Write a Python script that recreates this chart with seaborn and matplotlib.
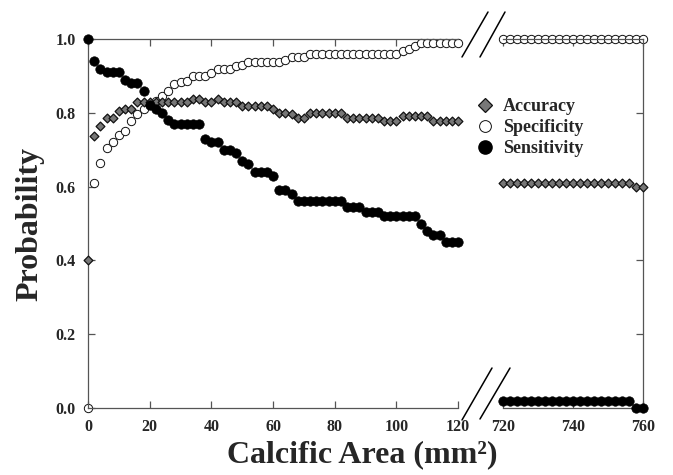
import matplotlib
matplotlib.use("Agg")
import matplotlib.pyplot as plt
from matplotlib.lines import Line2D
import seaborn as sns
import pandas as pd

# ---------------- data ----------------
x_left = [0, 2, 4, 6, 8, 10, 12, 14, 16, 18,
          20, 22, 24, 26, 28, 30, 32, 34, 36, 38,
          40, 42, 44, 46, 48, 50, 52, 54, 56, 58,
          60, 62, 64, 66, 68, 70, 72, 74, 76, 78,
          80, 82, 84, 86, 88, 90, 92, 94, 96, 98,
          100, 102, 104, 106, 108, 110, 112, 114, 116, 118,
          120]
sens_left = [1.00, 0.94, 0.92, 0.91, 0.91, 0.91, 0.89, 0.88, 0.88, 0.86,
             0.82, 0.81, 0.80, 0.78, 0.77, 0.77, 0.77, 0.77, 0.77, 0.73,
             0.72, 0.72, 0.70, 0.70, 0.69, 0.67, 0.66, 0.64, 0.64, 0.64,
             0.63, 0.59, 0.59, 0.58, 0.56, 0.56, 0.56, 0.56, 0.56, 0.56,
             0.56, 0.56, 0.545, 0.545, 0.545, 0.53, 0.53, 0.53, 0.52, 0.52,
             0.52, 0.52, 0.52, 0.52, 0.50, 0.48, 0.47, 0.47, 0.45, 0.45,
             0.45]
spec_left = [0.00, 0.61, 0.665, 0.705, 0.72, 0.74, 0.75, 0.778, 0.796, 0.81,
             0.82, 0.832, 0.846, 0.86, 0.878, 0.883, 0.886, 0.90, 0.90, 0.90,
             0.909, 0.918, 0.918, 0.918, 0.927, 0.93, 0.939, 0.939, 0.939, 0.939,
             0.939, 0.939, 0.942, 0.951, 0.951, 0.951, 0.958, 0.958, 0.958, 0.958,
             0.958, 0.958, 0.958, 0.958, 0.958, 0.958, 0.958, 0.958, 0.958, 0.958,
             0.958, 0.967, 0.974, 0.982, 0.988, 0.988, 0.988, 0.988, 0.988, 0.988,
             0.988]
acc_left = [0.40, 0.738, 0.765, 0.787, 0.787, 0.805, 0.81, 0.81, 0.828, 0.83,
            0.83, 0.828, 0.828, 0.83, 0.83, 0.83, 0.83, 0.837, 0.837, 0.828,
            0.828, 0.837, 0.828, 0.828, 0.828, 0.819, 0.819, 0.819, 0.819, 0.819,
            0.81, 0.80, 0.80, 0.798, 0.787, 0.787, 0.80, 0.80, 0.80, 0.80,
            0.80, 0.80, 0.787, 0.787, 0.787, 0.787, 0.787, 0.787, 0.778, 0.778,
            0.778, 0.79, 0.79, 0.79, 0.79, 0.79, 0.778, 0.778, 0.778, 0.778,
            0.778]

x_right = [720, 722, 724, 726, 728, 730, 732, 734, 736, 738,
           740, 742, 744, 746, 748, 750, 752, 754, 756, 758, 760]
sens_right = [0.02] * 19 + [0.0, 0.0]
spec_right = [1.0] * 21
acc_right = [0.61] * 19 + [0.60, 0.60]

left_ticks = [0, 20, 40, 60, 80, 100, 120]
right_ticks = [720, 740, 760]
y_ticks = [0.0, 0.2, 0.4, 0.6, 0.8, 1.0]
y_tick_labels = ["0.0", "0.2", "0.4", "0.6", "0.8", "1.0"]
series_names = ["Accuracy", "Specificity", "Sensitivity"]
x_label = "Calcific Area (mm²)"
y_label = "Probability"

# ---------------- style ----------------
sns.set_theme(style="white")
plt.rcParams["font.family"] = ["Liberation Serif", "DejaVu Serif"]
plt.rcParams["font.weight"] = "bold"

W, H = 673, 475
fig = plt.figure(figsize=(W / 100, H / 100), dpi=100)

def fx(px):
    return px / W

def fy(py):
    return 1 - py / H

axL = fig.add_axes([fx(88), fy(408), fx(458) - fx(88), fy(39) - fy(408)])
axR = fig.add_axes([fx(503), fy(408), fx(643) - fx(503), fy(39) - fy(408)])

styles = {
    "Accuracy": dict(marker="D", s=20, color="#777777", edgecolor="#111111", linewidth=0.9, zorder=3),
    "Specificity": dict(marker="o", s=36, color="white", edgecolor="#111111", linewidth=0.7, zorder=2),
    "Sensitivity": dict(marker="o", s=46, color="black", edgecolor="black", linewidth=0.5, zorder=4),
}

def draw(ax, xs, acc, spec, sens):
    data = {"Accuracy": acc, "Specificity": spec, "Sensitivity": sens}
    for name in ["Specificity", "Accuracy", "Sensitivity"]:
        df = pd.DataFrame({"x": xs, "y": data[name]})
        sns.scatterplot(data=df, x="x", y="y", ax=ax, legend=False,
                        clip_on=False, **styles[name])

draw(axL, x_left, acc_left, spec_left, sens_left)
draw(axR, x_right, acc_right, spec_right, sens_right)

spine_col = "#555555"
for ax in (axL, axR):
    ax.set_ylim(0, 1.0)
    ax.set_xlabel("")
    ax.set_ylabel("")
    for sp in ax.spines.values():
        sp.set_color(spine_col)
        sp.set_linewidth(0.9)

axL.set_xlim(0, 120)
axR.set_xlim(720, 760)
axL.spines["right"].set_visible(False)
axR.spines["left"].set_visible(False)

axL.set_xticks(left_ticks)
axL.set_xticklabels([str(t) for t in left_ticks])
axL.set_yticks(y_ticks)
axL.set_yticklabels(y_tick_labels)
axL.tick_params(axis="both", direction="in", length=5, width=0.9, color=spine_col,
                labelsize=11.5, top=True, bottom=True, left=True, right=False)
axL.tick_params(axis="x", pad=8)
axL.tick_params(axis="y", pad=9)

axR.set_xticks(right_ticks)
axR.set_xticklabels([str(t) for t in right_ticks])
axR.set_yticks(y_ticks)
axR.tick_params(axis="both", direction="in", length=5, width=0.9, color=spine_col,
                labelsize=11.5, top=True, bottom=True, left=False, right=True,
                labelleft=False, labelright=False)
axR.tick_params(axis="x", pad=8)

for ax in (axL, axR):
    for lab in ax.get_xticklabels() + ax.get_yticklabels():
        lab.set_fontweight("bold")

# axis titles
fig.text(fx(30), fy(224), y_label, rotation=90, ha="center", va="center",
         fontsize=23, fontweight="bold")
fig.text(fx(362), fy(455), x_label, ha="center", va="center",
         fontsize=23, fontweight="bold")

# break marks
for (x0, y0, x1, y1) in [(462, 57, 488, 12), (480, 57, 505, 12),
                         (462, 420, 492, 368), (480, 419, 510, 368)]:
    fig.add_artist(Line2D([fx(x0), fx(x1)], [fy(y0), fy(y1)],
                          transform=fig.transFigure, color="black", linewidth=1.1))

# legend
handles = [
    Line2D([], [], linestyle="none", marker="D", markersize=7,
           markerfacecolor="#777777", markeredgecolor="#111111", markeredgewidth=0.9),
    Line2D([], [], linestyle="none", marker="o", markersize=8.5,
           markerfacecolor="white", markeredgecolor="#111111", markeredgewidth=0.7),
    Line2D([], [], linestyle="none", marker="o", markersize=9.5,
           markerfacecolor="black", markeredgecolor="black"),
]
leg = fig.legend(handles, series_names, loc="upper left",
                 bbox_to_anchor=(fx(476), fy(98)), bbox_transform=fig.transFigure,
                 frameon=False, handlelength=1.0, handletextpad=0.5,
                 labelspacing=0.22, borderaxespad=0, borderpad=0,
                 prop={"family": "Liberation Serif", "weight": "bold", "size": 13})

fig.savefig("out.png", dpi=100)
